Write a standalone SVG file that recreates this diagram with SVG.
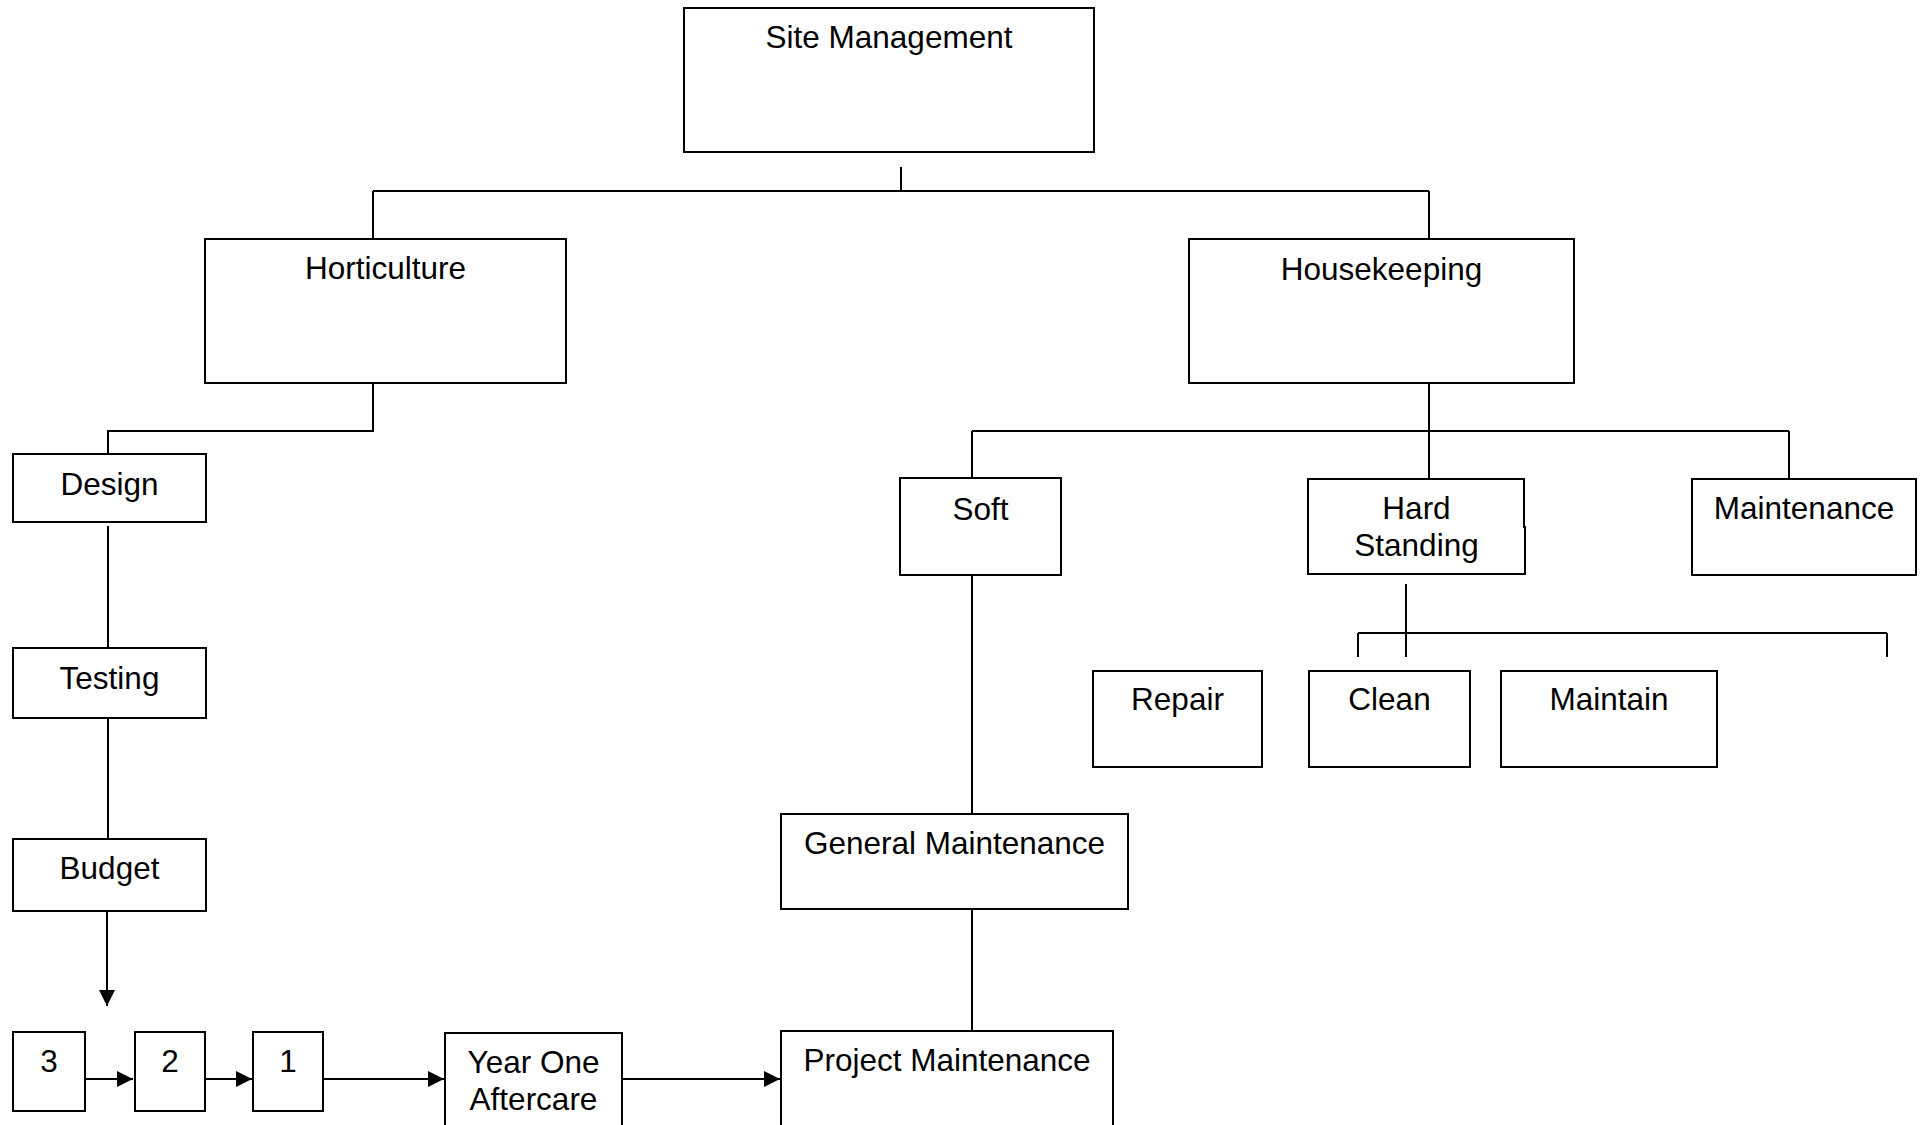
<svg xmlns="http://www.w3.org/2000/svg" width="1925" height="1125" viewBox="0 0 1925 1125">
<style>
  .box { fill: #ffffff; stroke: #000000; stroke-width: 2; }
  .ln { fill: none; stroke: #000000; stroke-width: 2; }
  .t { font-family: "Liberation Sans", Arial, sans-serif; font-size: 31.5px; fill: #000000; text-anchor: middle; }
</style>
<defs>
  <marker id="arr" viewBox="0 0 16 16" refX="16" refY="8" markerWidth="16" markerHeight="16" markerUnits="userSpaceOnUse" orient="auto">
    <path d="M0,0 L16,8 L0,16 Z" fill="#000000"/>
  </marker>
</defs>
<rect width="1925" height="1125" fill="#ffffff"/>

<g id="connectors">
  <path class="ln" d="M901,167 V191 M373,191 H1429 M373,191 V239 M1429,191 V239"/>
  <path class="ln" d="M373,383 V431 H108 V454"/>
  <path class="ln" d="M1429,383 V479 M972,431 H1789 M972,431 V478 M1789,431 V479"/>
  <path class="ln" d="M108,526 V648 M108,718 V839"/>
  <path class="ln" d="M107,911 V1006" marker-end="url(#arr)"/>
  <path class="ln" d="M972,575 V814 M972,909 V1031"/>
  <path class="ln" d="M1406,584 V657 M1358,633 H1887 M1358,633 V657 M1887,633 V657"/>
  <path class="ln" d="M83,1079 H133" marker-end="url(#arr)"/>
  <path class="ln" d="M203,1079 H252" marker-end="url(#arr)"/>
  <path class="ln" d="M323,1079 H444" marker-end="url(#arr)"/>
  <path class="ln" d="M611,1079 H780" marker-end="url(#arr)"/>
</g>

<g id="site-management">
  <rect class="box" x="684" y="8" width="410" height="144"/>
  <text class="t" x="889" y="48">Site Management</text>
</g>
<g id="horticulture">
  <rect class="box" x="205" y="239" width="361" height="144"/>
  <text class="t" x="385.5" y="279">Horticulture</text>
</g>
<g id="housekeeping">
  <rect class="box" x="1189" y="239" width="385" height="144"/>
  <text class="t" x="1381.5" y="280">Housekeeping</text>
</g>
<g id="design">
  <rect class="box" x="13" y="454" width="193" height="68"/>
  <text class="t" x="109.5" y="495">Design</text>
</g>
<g id="testing">
  <rect class="box" x="13" y="648" width="193" height="70"/>
  <text class="t" x="109.5" y="689">Testing</text>
</g>
<g id="budget">
  <rect class="box" x="13" y="839" width="193" height="72"/>
  <text class="t" x="109.5" y="879">Budget</text>
</g>
<g id="soft">
  <rect class="box" x="900" y="478" width="161" height="97"/>
  <text class="t" x="980.5" y="520">Soft</text>
</g>
<g id="hard-standing">
  <path class="box" d="M1308,479 H1524 V527 H1525 V574 H1308 Z"/>
  <text class="t" x="1416.5" y="519">Hard</text>
  <text class="t" x="1416.5" y="556">Standing</text>
</g>
<g id="maintenance">
  <rect class="box" x="1692" y="479" width="224" height="96"/>
  <text class="t" x="1804" y="519">Maintenance</text>
</g>
<g id="repair">
  <rect class="box" x="1093" y="671" width="169" height="96"/>
  <text class="t" x="1177.5" y="710">Repair</text>
</g>
<g id="clean">
  <rect class="box" x="1309" y="671" width="161" height="96"/>
  <text class="t" x="1389.5" y="710">Clean</text>
</g>
<g id="maintain">
  <rect class="box" x="1501" y="671" width="216" height="96"/>
  <text class="t" x="1609" y="710">Maintain</text>
</g>
<g id="general-maintenance">
  <rect class="box" x="781" y="814" width="347" height="95"/>
  <text class="t" x="954.5" y="854">General Maintenance</text>
</g>
<g id="step-3">
  <rect class="box" x="13" y="1032" width="72" height="79"/>
  <text class="t" x="49" y="1072">3</text>
</g>
<g id="step-2">
  <rect class="box" x="135" y="1032" width="70" height="79"/>
  <text class="t" x="170" y="1072">2</text>
</g>
<g id="step-1">
  <rect class="box" x="253" y="1032" width="70" height="79"/>
  <text class="t" x="288" y="1072">1</text>
</g>
<g id="year-one-aftercare">
  <rect class="box" x="445" y="1033" width="177" height="110"/>
  <text class="t" x="533.5" y="1073">Year One</text>
  <text class="t" x="533.5" y="1110">Aftercare</text>
</g>
<g id="project-maintenance">
  <rect class="box" x="781" y="1031" width="332" height="112"/>
  <text class="t" x="947" y="1071">Project Maintenance</text>
</g>
</svg>
